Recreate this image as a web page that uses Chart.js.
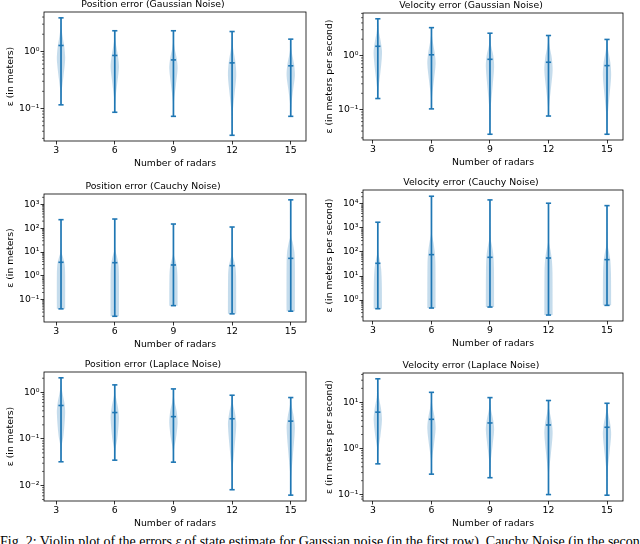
<!DOCTYPE html>
<html>
<head>
<meta charset="utf-8">
<script src="https://cdn.jsdelivr.net/npm/chart.js@4.4.1/dist/chart.umd.min.js"></script>
<style>
html, body { margin: 0; padding: 0; background: #fff; }
body { width: 640px; height: 544px; position: relative; overflow: hidden; }
canvas { position: absolute; }
#caption { position: absolute; left: 0; top: 535.2px; white-space: nowrap; font: 14px "Liberation Serif", serif; line-height: 1; color: #000; }
</style>
</head>
<body>
<canvas id="c0"></canvas>
<canvas id="c1"></canvas>
<canvas id="c2"></canvas>
<canvas id="c3"></canvas>
<canvas id="c4"></canvas>
<canvas id="c5"></canvas>
<div id="caption">Fig. 2: Violin plot of the errors <i>ε</i> of state estimate for Gaussian noise (in the first row), Cauchy Noise (in the second row)</div>
<script>
// x axis: number of radars, and where each violin sits
const radars = [3, 6, 9, 12, 15];
const positions = [3.25, 6, 9, 12, 15];

// violin shapes are [value, half width] pairs

// Position error, Gaussian noise
const posGaussMin = [0.116, 0.086, 0.073, 0.034, 0.073];
const posGaussMax = [3.87, 2.30, 2.30, 2.23, 1.64];
const posGaussMean = [1.27, 0.85, 0.71, 0.63, 0.56];
const posGaussShape = [
    [[0.116, 0], [0.2, 0.04], [0.35, 0.14], [0.6, 0.23], [0.8, 0.25], [1.2, 0.2], [1.8, 0.1], [2.6, 0.03], [3.87, 0]],
    [[0.086, 0], [0.15, 0.04], [0.28, 0.15], [0.53, 0.25], [0.8, 0.2], [1.2, 0.1], [1.6, 0.03], [2.30, 0]],
    [[0.073, 0], [0.14, 0.04], [0.26, 0.15], [0.5, 0.25], [0.75, 0.2], [1.1, 0.08], [1.5, 0.02], [2.30, 0]],
    [[0.034, 0], [0.08, 0.03], [0.18, 0.15], [0.38, 0.25], [0.65, 0.2], [1.1, 0.07], [1.5, 0.02], [2.23, 0]],
    [[0.073, 0], [0.12, 0.04], [0.22, 0.15], [0.38, 0.25], [0.6, 0.2], [0.9, 0.08], [1.2, 0.02], [1.64, 0]]
];

// Velocity error, Gaussian noise
const velGaussMin = [0.16, 0.103, 0.035, 0.076, 0.035];
const velGaussMax = [4.77, 3.27, 2.58, 2.34, 1.98];
const velGaussMean = [1.48, 1.03, 0.85, 0.75, 0.65];
const velGaussShape = [
    [[0.16, 0], [0.26, 0.05], [0.5, 0.16], [0.9, 0.24], [1.23, 0.25], [1.8, 0.18], [2.8, 0.06], [3.8, 0.02], [4.77, 0]],
    [[0.103, 0], [0.18, 0.04], [0.35, 0.15], [0.71, 0.25], [1.1, 0.2], [1.8, 0.08], [2.5, 0.02], [3.27, 0]],
    [[0.035, 0], [0.1, 0.04], [0.25, 0.15], [0.61, 0.25], [1.0, 0.2], [1.5, 0.07], [2.0, 0.02], [2.58, 0]],
    [[0.076, 0], [0.12, 0.04], [0.25, 0.15], [0.53, 0.25], [0.9, 0.2], [1.4, 0.08], [1.9, 0.02], [2.34, 0]],
    [[0.035, 0], [0.076, 0.04], [0.18, 0.15], [0.43, 0.25], [0.75, 0.2], [1.2, 0.08], [1.6, 0.02], [1.98, 0]]
];

// Position error, Cauchy noise
const posCauchyMin = [0.041, 0.020, 0.056, 0.0253, 0.0327];
const posCauchyMax = [230, 245, 151, 113, 1570];
const posCauchyMean = [3.72, 3.58, 2.87, 2.69, 5.45];
const posCauchyShape = [
    [[0.041, 0.25], [1, 0.25], [3, 0.22], [6, 0.12], [10, 0.03], [30, 0.005], [230, 0]],
    [[0.020, 0.25], [1, 0.25], [3, 0.22], [7, 0.12], [12, 0.03], [40, 0.005], [245, 0]],
    [[0.056, 0.25], [1, 0.24], [2.5, 0.2], [5, 0.1], [8, 0.03], [30, 0.005], [151, 0]],
    [[0.0253, 0.25], [1, 0.24], [2.5, 0.2], [5, 0.1], [8, 0.03], [30, 0.005], [113, 0]],
    [[0.0327, 0.25], [3, 0.25], [10, 0.22], [25, 0.12], [45, 0.03], [150, 0.005], [1570, 0]]
];

// Velocity error, Cauchy noise
const velCauchyMin = [0.435, 0.464, 0.51, 0.237, 0.6];
const velCauchyMax = [1730, 20900, 14700, 10700, 8500];
const velCauchyMean = [33.8, 77.5, 60, 56, 48];
const velCauchyShape = [
    [[0.435, 0.25], [5, 0.24], [20, 0.2], [45, 0.12], [90, 0.03], [300, 0.005], [1730, 0]],
    [[0.464, 0.25], [30, 0.24], [100, 0.2], [250, 0.12], [550, 0.03], [2000, 0.005], [20900, 0]],
    [[0.51, 0.25], [20, 0.24], [80, 0.2], [180, 0.12], [400, 0.03], [1500, 0.005], [14700, 0]],
    [[0.237, 0.25], [15, 0.24], [50, 0.2], [120, 0.12], [250, 0.03], [1000, 0.005], [10700, 0]],
    [[0.6, 0.25], [12, 0.24], [45, 0.2], [100, 0.12], [210, 0.03], [800, 0.005], [8500, 0]]
];

// Position error, Laplace noise
const posLaplaceMin = [0.0322, 0.0349, 0.0316, 0.0081, 0.0062];
const posLaplaceMax = [2.04, 1.44, 1.18, 0.863, 0.77];
const posLaplaceMean = [0.52, 0.367, 0.30, 0.27, 0.24];
const posLaplaceShape = [
    [[0.0322, 0], [0.07, 0.04], [0.12, 0.15], [0.36, 0.25], [0.6, 0.2], [1.0, 0.08], [1.4, 0.02], [2.04, 0]],
    [[0.0349, 0], [0.06, 0.04], [0.1, 0.15], [0.28, 0.25], [0.45, 0.2], [0.75, 0.08], [1.0, 0.02], [1.44, 0]],
    [[0.0316, 0], [0.06, 0.04], [0.1, 0.15], [0.22, 0.25], [0.38, 0.2], [0.6, 0.08], [0.85, 0.02], [1.18, 0]],
    [[0.0081, 0], [0.02, 0.02], [0.05, 0.12], [0.2, 0.25], [0.35, 0.18], [0.55, 0.06], [0.7, 0.02], [0.863, 0]],
    [[0.0062, 0], [0.015, 0.02], [0.04, 0.12], [0.17, 0.25], [0.3, 0.18], [0.5, 0.06], [0.65, 0.02], [0.77, 0]]
];

// Velocity error, Laplace noise
const velLaplaceMin = [0.463, 0.277, 0.232, 0.1, 0.097];
const velLaplaceMax = [32.2, 16.4, 12.6, 10.9, 9.5];
const velLaplaceMean = [6.1, 4.27, 3.56, 3.22, 2.87];
const velLaplaceShape = [
    [[0.463, 0], [1, 0.04], [1.8, 0.15], [4.1, 0.25], [7, 0.2], [12, 0.08], [18, 0.02], [32.2, 0]],
    [[0.277, 0], [0.6, 0.04], [1.2, 0.15], [2.7, 0.25], [4.5, 0.2], [7.5, 0.08], [11, 0.02], [16.4, 0]],
    [[0.232, 0], [0.5, 0.04], [1.1, 0.15], [2.5, 0.25], [4, 0.2], [6.5, 0.08], [9, 0.02], [12.6, 0]],
    [[0.1, 0], [0.3, 0.03], [0.8, 0.15], [2.1, 0.25], [3.6, 0.2], [6, 0.08], [8, 0.02], [10.9, 0]],
    [[0.097, 0], [0.3, 0.03], [0.8, 0.15], [2.0, 0.25], [3.3, 0.2], [5.5, 0.08], [7.5, 0.02], [9.5, 0]]
];

// major ticks (powers of ten) per panel
const posGaussTicks = [0.1, 1];
const velGaussTicks = [0.1, 1];
const posCauchyTicks = [0.1, 1, 10, 100, 1000];
const velCauchyTicks = [1, 10, 100, 1000, 10000];
const posLaplaceTicks = [0.01, 0.1, 1];
const velLaplaceTicks = [0.1, 1, 10];

const POS_LABEL = 'ε (in meters)';
const VEL_LABEL = 'ε (in meters per second)';

// canvas rect: [left, top, width, height]
const panels = [
    { title: 'Position error (Gaussian Noise)', ylabel: POS_LABEL, mins: posGaussMin, maxs: posGaussMax, means: posGaussMean, shapes: posGaussShape, ticks: posGaussTicks, ymin: 0.027, ymax: 4.9, xmin: 2.38, xmax: 15.78, rect: [0, -1, 316, 170] },
    { title: 'Velocity error (Gaussian Noise)', ylabel: VEL_LABEL, mins: velGaussMin, maxs: velGaussMax, means: velGaussMean, shapes: velGaussShape, ticks: velGaussTicks, ymin: 0.0274, ymax: 6.1, xmin: 2.49, xmax: 15.82, rect: [319, 0, 314, 168] },
    { title: 'Position error (Cauchy Noise)', ylabel: POS_LABEL, mins: posCauchyMin, maxs: posCauchyMax, means: posCauchyMean, shapes: posCauchyShape, ticks: posCauchyTicks, ymin: 0.0115, ymax: 2760, xmin: 2.38, xmax: 15.78, rect: [0, 181, 316, 169] },
    { title: 'Velocity error (Cauchy Noise)', ylabel: VEL_LABEL, mins: velCauchyMin, maxs: velCauchyMax, means: velCauchyMean, shapes: velCauchyShape, ticks: velCauchyTicks, ymin: 0.134, ymax: 38000, xmin: 2.49, xmax: 15.82, rect: [319, 177, 314, 172] },
    { title: 'Position error (Laplace Noise)', ylabel: POS_LABEL, mins: posLaplaceMin, maxs: posLaplaceMax, means: posLaplaceMean, shapes: posLaplaceShape, ticks: posLaplaceTicks, ymin: 0.00464, ymax: 2.72, xmin: 2.38, xmax: 15.78, rect: [0, 359, 316, 170] },
    { title: 'Velocity error (Laplace Noise)', ylabel: VEL_LABEL, mins: velLaplaceMin, maxs: velLaplaceMax, means: velLaplaceMean, shapes: velLaplaceShape, ticks: velLaplaceTicks, ymin: 0.0726, ymax: 43, xmin: 2.49, xmax: 15.82, rect: [319, 360, 314, 169] }
];

const BLUE = '#1f77b4';
const BODY = 'rgba(31,119,180,0.26)';
const BODY_SCALE = 0.85; // violins look a bit narrower than the caps suggest
const SUP = { '-': '⁻', '0': '⁰', '1': '¹', '2': '²', '3': '³', '4': '⁴', '5': '⁵', '6': '⁶', '7': '⁷', '8': '⁸', '9': '⁹' };

function powLabel(v) {
    const e = String(Math.round(Math.log10(v)));
    return '10' + e.split('').map(c => SUP[c]).join('');
}

Chart.defaults.font.family = "'DejaVu Sans', sans-serif";
Chart.defaults.font.size = 9.3;
Chart.defaults.color = '#000';

// box around the axes plus the small log ticks
const frameAndMinor = {
    id: 'frameAndMinor',
    afterDraw(chart) {
        const { ctx, chartArea: a } = chart;
        const y = chart.scales.y;
        ctx.save();
        ctx.strokeStyle = '#000';
        ctx.lineWidth = 0.8;
        ctx.strokeRect(a.left, a.top, a.right - a.left, a.bottom - a.top);
        ctx.lineWidth = 0.6;
        ctx.beginPath();
        const lo = Math.floor(Math.log10(y.min));
        const hi = Math.ceil(Math.log10(y.max));
        for (let k = lo; k <= hi; k++) {
            for (let m = 2; m <= 9; m++) {
                const v = m * Math.pow(10, k);
                if (v < y.min || v > y.max) continue;
                const py = y.getPixelForValue(v);
                ctx.moveTo(a.left - 2, py);
                ctx.lineTo(a.left, py);
            }
        }
        ctx.stroke();
        ctx.restore();
    }
};

function makeChart(p, idx) {
    const canvas = document.getElementById('c' + idx);
    const [l, t, w, h] = p.rect;
    canvas.style.left = l + 'px';
    canvas.style.top = t + 'px';
    canvas.width = w;
    canvas.height = h;

    const whiskers = [];
    const caps = [];
    positions.forEach((x, i) => {
        whiskers.push({ x: x, y: p.mins[i] }, { x: x, y: p.maxs[i] }, { x: x, y: null });
        caps.push({ x: x, y: p.mins[i] }, { x: x, y: p.maxs[i] }, { x: x, y: p.means[i] });
    });

    const datasets = [
        { type: 'scatter', data: caps, pointStyle: 'line', pointRadius: 2.6, borderColor: BLUE, borderWidth: 1.6, showLine: false },
        { type: 'line', data: whiskers, borderColor: BLUE, borderWidth: 1.7, pointRadius: 0, spanGaps: false, fill: false }
    ];
    p.shapes.forEach((shape, i) => {
        const x = positions[i];
        const right = shape.map(([v, hw]) => ({ x: x + hw * BODY_SCALE, y: v }));
        const left = shape.slice().reverse().map(([v, hw]) => ({ x: x - hw * BODY_SCALE, y: v }));
        datasets.push({
            type: 'line', data: right.concat(left), fill: 'shape',
            backgroundColor: BODY, borderWidth: 0,
            pointRadius: 0, tension: 0.3
        });
    });

    return new Chart(canvas, {
        type: 'line',
        data: { datasets: datasets },
        options: {
            responsive: false,
            animation: false,
            events: [],
            layout: { padding: { left: 0, right: 10, top: 0, bottom: 0 } },
            plugins: {
                legend: { display: false },
                tooltip: { enabled: false },
                title: { display: true, text: p.title, font: { size: 9.3, weight: 'normal' }, padding: { top: 0.34, bottom: 1.5 } }
            },
            scales: {
                x: {
                    type: 'linear', min: p.xmin, max: p.xmax,
                    afterBuildTicks: s => { s.ticks = radars.map(v => ({ value: v })); },
                    afterFit: s => { s.height = 28; },
                    ticks: { padding: 0.6, callback: v => String(v), maxRotation: 0 },
                    grid: { drawOnChartArea: false, tickLength: 3.5, tickWidth: 0.8, tickColor: '#000' },
                    border: { display: false },
                    title: { display: true, text: 'Number of radars', padding: { top: 0, bottom: 0 } }
                },
                y: {
                    type: 'logarithmic', min: p.ymin, max: p.ymax,
                    afterBuildTicks: s => { s.ticks = p.ticks.map(v => ({ value: v })); },
                    afterFit: s => { s.width = 44; },
                    ticks: { padding: 1, callback: v => powLabel(v) },
                    grid: { drawOnChartArea: false, tickLength: 3.5, tickWidth: 0.8, tickColor: '#000' },
                    border: { display: false },
                    title: { display: true, text: p.ylabel, padding: { top: 5, bottom: 0 } }
                }
            }
        },
        plugins: [frameAndMinor]
    });
}

panels.forEach(makeChart);
</script>
</body>
</html>
